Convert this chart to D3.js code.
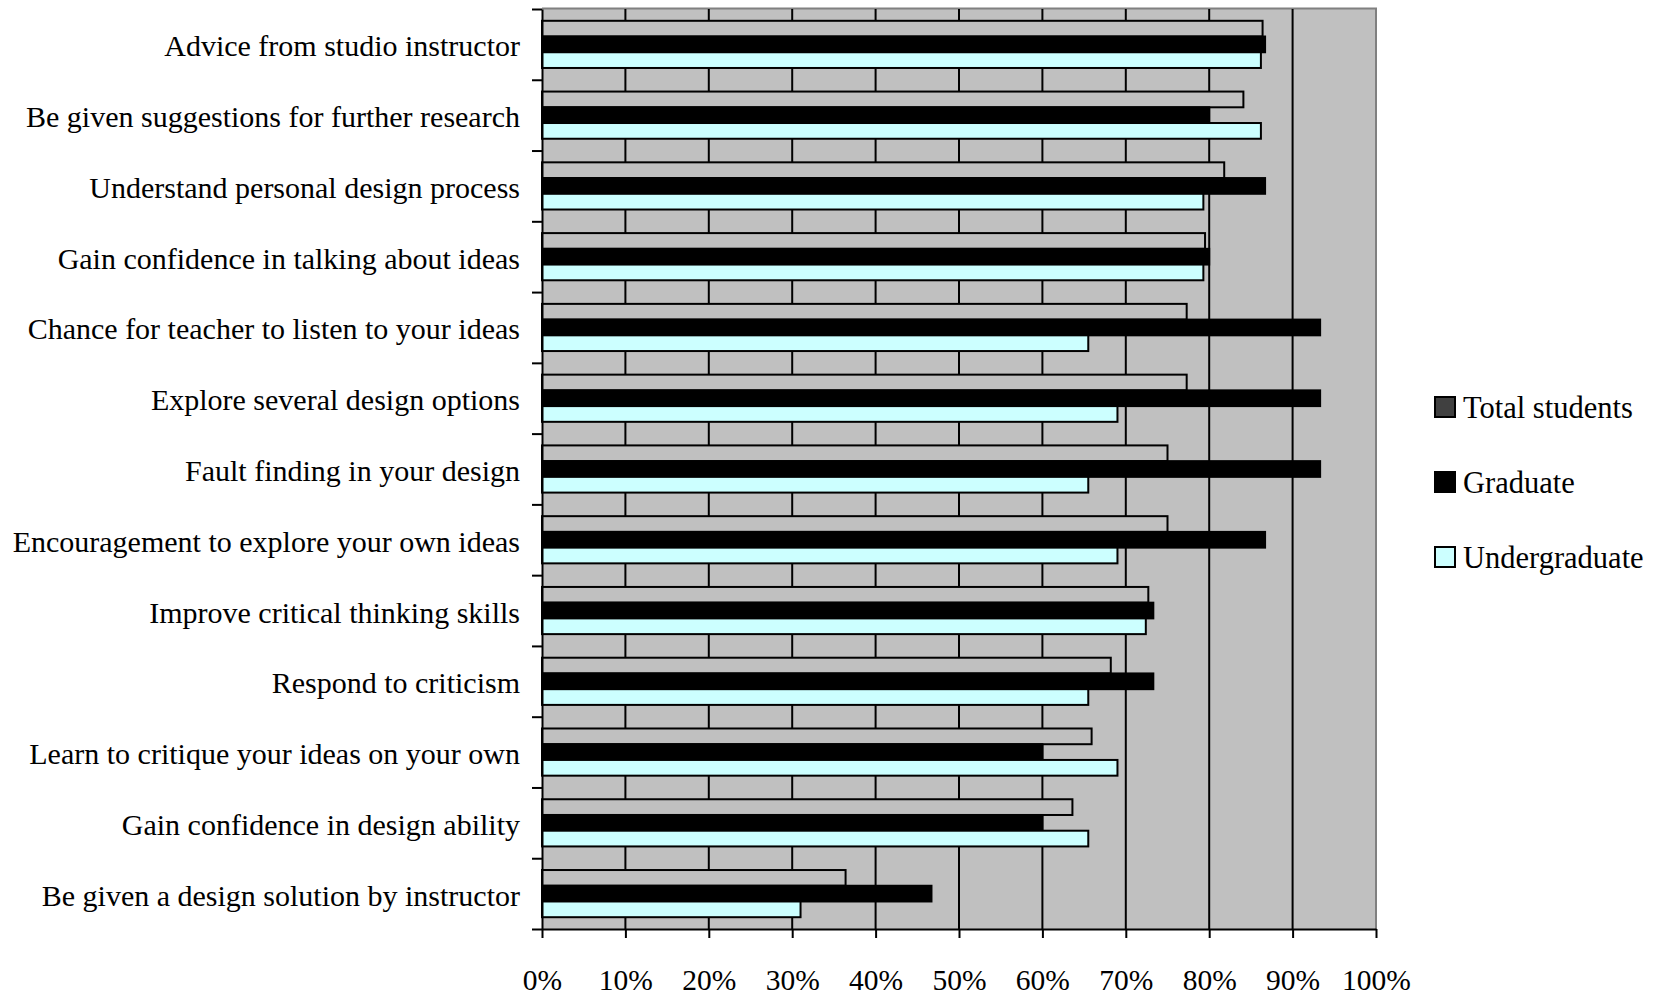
<!DOCTYPE html>
<html>
<head>
<meta charset="utf-8">
<script src="https://cdn.jsdelivr.net/npm/d3@7"></script>
<style>
  body { margin: 0; background: #fff; }
  text { font-family: "Liberation Serif", "Times New Roman", serif; fill: #000; }
</style>
</head>
<body>
<svg id="chart"></svg>
<script>
// Categories from top to bottom
const categories = [
  "Advice from studio instructor",
  "Be given suggestions for further research",
  "Understand personal design process",
  "Gain confidence in talking about ideas",
  "Chance for teacher to listen to your ideas",
  "Explore several design options",
  "Fault finding in your design",
  "Encouragement to explore your own ideas",
  "Improve critical thinking skills",
  "Respond to criticism",
  "Learn to critique your ideas on your own",
  "Gain confidence in design ability",
  "Be given a design solution by instructor"
];

const seriesNames = ["Total students", "Graduate", "Undergraduate"];

const totalStudents = [86.4, 84.1, 81.8, 79.5, 77.3, 77.3, 75.0, 75.0, 72.7, 68.2, 65.9, 63.6, 36.4];
const graduate      = [86.7, 80.0, 86.7, 80.0, 93.3, 93.3, 93.3, 86.7, 73.3, 73.3, 60.0, 60.0, 46.7];
const undergraduate = [86.2, 86.2, 79.3, 79.3, 65.5, 69.0, 65.5, 69.0, 72.4, 65.5, 69.0, 65.5, 31.0];

const xTicks = [0, 10, 20, 30, 40, 50, 60, 70, 80, 90, 100];

const seriesValues = [totalStudents, graduate, undergraduate];
const barColors = ["#C0C0C0", "#000000", "#CCFFFF"];
const legendColors = ["#404040", "#000000", "#CCFFFF"];

const config = {
  width: 1656,
  height: 995,
  margin: {top: 9, right: 280, bottom: 66, left: 542}
};

const width = config.width - config.margin.left - config.margin.right;
const height = config.height - config.margin.top - config.margin.bottom;

const svg = d3.select('#chart')
    .attr('width', config.width)
    .attr('height', config.height);

const chart = svg.append('g')
    .attr('transform', `translate(${config.margin.left},${config.margin.top})`);

// Scales
const xScale = d3.scaleLinear()
    .domain([0, 100])
    .range([0, width]);

const yScale = d3.scaleBand()
    .domain(categories)
    .range([0, height])
    .paddingInner(0)
    .paddingOuter(0);

const ySub = d3.scaleBand()
    .domain(seriesNames)
    .range([0, yScale.bandwidth()])
    .paddingInner(0)
    .paddingOuter(0.75);

// Plot background
chart.append('rect')
    .attr('width', width)
    .attr('height', height)
    .attr('fill', '#C0C0C0');

// Top and right border of plot area
chart.append('path')
    .attr('d', `M0,-0.5H${width}V${height}`)
    .attr('fill', 'none')
    .attr('stroke', '#808080')
    .attr('stroke-width', 2);

// Vertical gridlines
chart.append('g')
    .selectAll('line')
    .data(xTicks.filter(d => d > 0 && d < 100))
  .join('line')
    .attr('x1', d => xScale(d))
    .attr('x2', d => xScale(d))
    .attr('y1', 0)
    .attr('y2', height)
    .attr('stroke', '#000')
    .attr('stroke-width', 2);

// Bars
const rows = categories.map((c, i) => ({
  category: c,
  values: seriesNames.map((s, j) => ({series: s, value: seriesValues[j][i], color: barColors[j]}))
}));

const groups = chart.append('g')
    .selectAll('g')
    .data(rows)
  .join('g')
    .attr('transform', d => `translate(0,${yScale(d.category)})`);

groups.selectAll('rect')
    .data(d => d.values)
  .join('rect')
    .attr('x', 0)
    .attr('y', d => ySub(d.series))
    .attr('width', d => xScale(d.value))
    .attr('height', ySub.bandwidth())
    .attr('fill', d => d.color)
    .attr('stroke', '#000')
    .attr('stroke-width', 2);

// X axis
const xAxis = d3.axisBottom(xScale)
    .tickValues(xTicks)
    .tickFormat(d => d + '%')
    .tickSize(9)
    .tickPadding(31)
    .tickSizeOuter(0);

const xAxisG = chart.append('g')
    .attr('transform', `translate(0,${height})`)
    .call(xAxis);
xAxisG.select('.domain').attr('stroke-width', 2);
xAxisG.selectAll('.tick line').attr('stroke-width', 2);
xAxisG.selectAll('text')
    .style('font-family', '"Liberation Serif", "Times New Roman", serif')
    .style('font-size', '29.5px');

// Y axis: labels in band centres
const yAxis = d3.axisLeft(yScale)
    .tickSize(0)
    .tickPadding(22);

const yAxisG = chart.append('g')
    .call(yAxis);
yAxisG.select('.domain').remove();
yAxisG.selectAll('text')
    .style('font-family', '"Liberation Serif", "Times New Roman", serif')
    .style('font-size', '30px')
    .attr('dy', '0.4em');

// Y axis line with ticks at category boundaries
const yBound = d3.scaleLinear()
    .domain([0, categories.length])
    .range([0, height]);

const yTickG = chart.append('g')
    .call(d3.axisLeft(yBound)
      .ticks(categories.length)
      .tickFormat('')
      .tickSize(10)
      .tickSizeOuter(0));
yTickG.select('.domain').attr('stroke-width', 2);
yTickG.selectAll('.tick line').attr('stroke-width', 2);

// Legend
const legend = svg.append('g')
    .attr('transform', 'translate(1435,397)');

const legendItems = legend.selectAll('g')
    .data(seriesNames)
  .join('g')
    .attr('transform', (d, i) => `translate(0,${i * 75})`);

legendItems.append('rect')
    .attr('width', 20)
    .attr('height', 20)
    .attr('fill', (d, i) => legendColors[i])
    .attr('stroke', '#000')
    .attr('stroke-width', 2);

legendItems.append('text')
    .attr('x', 28)
    .attr('y', 10)
    .attr('dy', '0.35em')
    .style('font-size', '30.5px')
    .text(d => d);
</script>
</body>
</html>
